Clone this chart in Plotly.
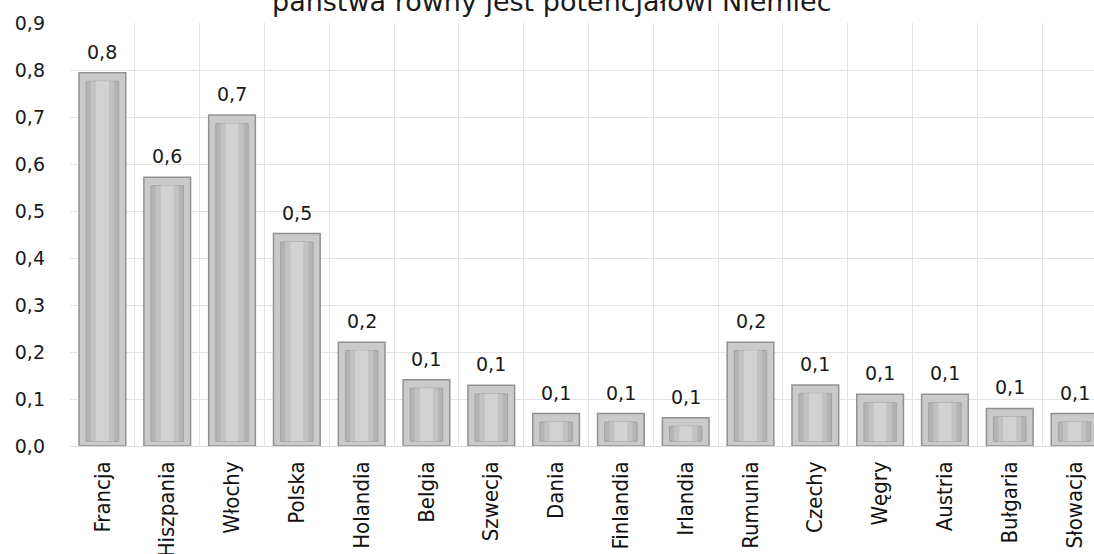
import plotly.graph_objects as go

# Country categories and their values
countries = ["Francja", "Hiszpania", "Włochy", "Polska", "Holandia", "Belgia",
             "Szwecja", "Dania", "Finlandia", "Irlandia", "Rumunia", "Czechy",
             "Węgry", "Austria", "Bułgaria", "Słowacja"]
values = [0.794, 0.572, 0.704, 0.452, 0.221, 0.141, 0.129, 0.069, 0.069, 0.060,
          0.221, 0.130, 0.110, 0.110, 0.080, 0.069]
y_ticks = [0.0, 0.1, 0.2, 0.3, 0.4, 0.5, 0.6, 0.7, 0.8, 0.9]
title_text = "państwa równy jest potencjałowi Niemiec"

LABEL_FONT = "DejaVu Sans, Verdana, sans-serif"
CAT_FONT = "Liberation Sans Narrow, DejaVu Sans Condensed, Roboto, sans-serif"

fig = go.Figure()

# outer bevel frame
fig.add_trace(go.Bar(
    x=countries, y=values, width=0.72,
    marker=dict(color="#cacaca", line=dict(color="#919191", width=1.5)),
    hoverinfo="skip", showlegend=False,
))
# inner recessed body, with lighter bands toward the middle
inset_top, inset_bottom = 0.018, 0.010
inner = [max(v - inset_top - inset_bottom, 0.005) for v in values]
for w, fill, edge in [(0.50, "#b4b4b4", "#a2a2a2"),
                      (0.36, "#c2c2c2", None),
                      (0.20, "#d2d2d2", None)]:
    fig.add_trace(go.Bar(
        x=countries, y=inner, base=[inset_bottom] * len(values), width=w,
        marker=dict(color=fill,
                    line=dict(color=edge, width=1) if edge else dict(width=0)),
        hoverinfo="skip", showlegend=False,
    ))

# value labels above the bars
for c, v in zip(countries, values):
    fig.add_annotation(
        x=c, y=v, text=f"{v:.1f}".replace(".", ","),
        showarrow=False, yanchor="bottom", yshift=8,
        font=dict(family=LABEL_FONT, size=19, color="#1a1a1a"),
    )

# chart title (second line, sitting at the very top edge)
fig.add_annotation(
    text=title_text, xref="paper", yref="paper", x=0.471, y=1,
    xanchor="center", yanchor="bottom", yshift=4, showarrow=False,
    font=dict(family=LABEL_FONT, size=27, color="#1a1a1a"),
)

fig.update_layout(
    width=1094, height=554,
    margin=dict(l=70, r=0, t=23, b=108, autoexpand=False),
    paper_bgcolor="white", plot_bgcolor="white",
    barmode="overlay",
    separators=",.",
    xaxis=dict(
        type="category", range=[-0.5, 15.30], automargin=False,
        tickangle=-90, tickson="boundaries",
        showgrid=True, gridcolor="#e3e3e3", gridwidth=1,
        ticks="", showline=False, ticklabelstandoff=10,
        tickfont=dict(family=CAT_FONT, size=22, color="#111111"),
    ),
    yaxis=dict(
        range=[0, 0.9], tickvals=y_ticks, tickformat=".1f", automargin=False,
        showgrid=True, gridcolor="#e3e3e3", gridwidth=1,
        zeroline=True, zerolinecolor="#d8d8d8", zerolinewidth=1,
        ticks="", showline=False, ticklabelstandoff=24,
        tickfont=dict(family=LABEL_FONT, size=19, color="#1a1a1a"),
    ),
)

fig.write_html("out.html")
